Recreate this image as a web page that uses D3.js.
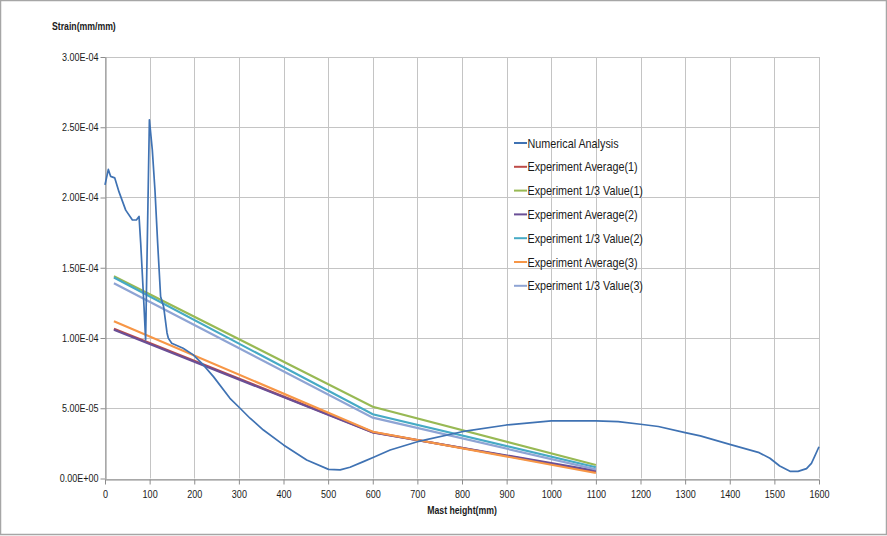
<!DOCTYPE html>
<html>
<head>
<meta charset="utf-8">
<script src="https://cdn.jsdelivr.net/npm/d3@7"></script>
<style>
  html, body { margin: 0; padding: 0; background: #fff; }
  svg { display: block; }
  text { font-family: "Liberation Sans", Arial, sans-serif; fill: #1a1a1a; }
</style>
</head>
<body>
<script>
// ---- data ----
const numX = [0, 7.5, 12.7, 21.7, 31.4, 46.4, 61.4, 70.3, 76.3, 80, 87.5, 91, 99.5, 106, 112, 118, 124.6, 131.5, 139, 142, 149.5, 175, 198, 217, 243, 280, 302.7, 325, 355, 400, 452, 501, 527, 549, 579, 602, 639, 700, 800, 900, 1000, 1100, 1150, 1200, 1240, 1300, 1334, 1400, 1466, 1490, 1512, 1535, 1553, 1572, 1583, 1590, 1600];
const numY = [2.09e-4, 2.20e-4, 2.15e-4, 2.14e-4, 2.04e-4, 1.91e-4, 1.84e-4, 1.84e-4, 1.865e-4, 1.675e-4, 1.22e-4, 0.986e-4, 2.553e-4, 2.34e-4, 2.05e-4, 1.675e-4, 1.295e-4, 1.22e-4, 1.036e-4, 0.998e-4, 0.963e-4, 0.927e-4, 0.88e-4, 0.82e-4, 0.725e-4, 0.571e-4, 0.50e-4, 0.429e-4, 0.345e-4, 0.239e-4, 0.132e-4, 0.065e-4, 0.061e-4, 0.08e-4, 0.12e-4, 0.151e-4, 0.203e-4, 0.262e-4, 0.333e-4, 0.381e-4, 0.41e-4, 0.41e-4, 0.405e-4, 0.386e-4, 0.37e-4, 0.326e-4, 0.303e-4, 0.243e-4, 0.184e-4, 0.144e-4, 0.089e-4, 0.051e-4, 0.051e-4, 0.07e-4, 0.108e-4, 0.155e-4, 0.226e-4];
const expX = [20, 600, 1100];
const expAvg1 = [1.065e-4, 3.30e-5, 4.8e-6];
const expThird1 = [1.44e-4, 5.11e-5, 9.6e-6];
const expAvg2 = [1.058e-4, 3.27e-5, 5.5e-6];
const expThird2 = [1.43e-4, 4.57e-5, 8.0e-6];
const expAvg3 = [1.12e-4, 3.33e-5, 3.9e-6];
const expThird3 = [1.39e-4, 4.33e-5, 6.5e-6];
const seriesNames = ["Numerical Analysis", "Experiment Average(1)", "Experiment 1/3 Value(1)", "Experiment Average(2)", "Experiment 1/3 Value(2)", "Experiment Average(3)", "Experiment 1/3 Value(3)"];
const seriesColors = ["#3f72b3", "#be4b48", "#98b954", "#6a4f96", "#46aac5", "#f79646", "#8ea4d4"];
const xTicks = d3.range(0, 1601, 100);
const yTicks = [0, 5e-5, 1e-4, 1.5e-4, 2e-4, 2.5e-4, 3e-4];
const yTickLabels = ["0.00E+00", "5.00E-05", "1.00E-04", "1.50E-04", "2.00E-04", "2.50E-04", "3.00E-04"];

// ---- layout ----
const W = 887, H = 536;
const svg = d3.select("body").append("svg").attr("width", W).attr("height", H);
svg.append("rect").attr("x", 0.5).attr("y", 0.5).attr("width", W - 1).attr("height", H - 2)
  .attr("fill", "#fff").attr("stroke", "#a6a6a6").attr("stroke-width", 1.5);

const x = d3.scaleLinear().domain([0, 1600]).range([105, 819]);
const y = d3.scaleLinear().domain([0, 3e-4]).range([478.5, 57]);

// gridlines
const g = svg.append("g");
g.selectAll(".hg").data(yTicks).enter().append("line")
  .attr("x1", x(0)).attr("x2", x(1600)).attr("y1", d => Math.round(y(d)) + 0.5).attr("y2", d => Math.round(y(d)) + 0.5)
  .attr("stroke", "#c4c4c4").attr("stroke-width", 1);
g.selectAll(".vg").data(xTicks).enter().append("line")
  .attr("y1", y(3e-4)).attr("y2", y(0)).attr("x1", d => Math.round(x(d)) + 0.5).attr("x2", d => Math.round(x(d)) + 0.5)
  .attr("stroke", "#c4c4c4").attr("stroke-width", 1);

// axes
const yAxis = d3.axisLeft(y).tickValues(yTicks).tickFormat((d, i) => yTickLabels[i]).tickSizeInner(5).tickSizeOuter(0).tickPadding(3);
const ya = svg.append("g").attr("transform", `translate(${Math.round(x(0)) + 0.5},0)`).call(yAxis);
ya.select(".domain").attr("stroke", "#8c8c8c");
ya.selectAll(".tick line").attr("stroke", "#8c8c8c");
ya.selectAll(".tick text").attr("font-size", 10.5).attr("fill", "#333").attr("transform", "scale(0.86,1)");

const xAxis = d3.axisBottom(x).tickValues(xTicks).tickFormat(d3.format("d")).tickSizeInner(5).tickSizeOuter(0).tickPadding(6);
const xa = svg.append("g").attr("transform", `translate(0,${Math.round(y(0)) + 0.5})`).call(xAxis);
xa.select(".domain").attr("stroke", "#8c8c8c");
xa.selectAll(".tick line").attr("stroke", "#8c8c8c");
xa.selectAll(".tick text").attr("font-size", 10.5).attr("fill", "#333").attr("transform", "scale(0.86,1)");
svg.selectAll(".tick text").style("font-family", '"Liberation Sans", Arial, sans-serif');

// titles
svg.append("text").attr("transform", "translate(52,30) scale(0.83,1)").attr("font-size", 10.5).attr("font-weight", "bold").text("Strain(mm/mm)");
svg.append("text").attr("transform", `translate(${x(800)},514) scale(0.83,1)`).attr("text-anchor", "middle").attr("font-size", 10.5).attr("font-weight", "bold").text("Mast height(mm)");

// lines
const line = d3.line().x(d => x(d[0])).y(d => y(d[1]));
const expSeries = [expAvg1, expThird1, expAvg2, expThird2, expAvg3, expThird3];
expSeries.forEach((vals, i) => {
  svg.append("path").datum(expX.map((xv, j) => [xv, vals[j]]))
    .attr("d", line).attr("fill", "none").attr("stroke", seriesColors[i + 1]).attr("stroke-width", 2.2);
});
svg.append("path").datum(numX.map((xv, j) => [xv, numY[j]]))
  .attr("d", line).attr("fill", "none").attr("stroke", seriesColors[0]).attr("stroke-width", 1.7).attr("stroke-linejoin", "round");

// legend
const lg = svg.append("g").attr("transform", "translate(514,143)");
seriesNames.forEach((name, i) => {
  const row = lg.append("g").attr("transform", `translate(0,${i * 23.8})`);
  row.append("line").attr("x1", 0).attr("x2", 13).attr("y1", 0).attr("y2", 0)
    .attr("stroke", seriesColors[i]).attr("stroke-width", 2);
  row.append("text").attr("transform", "translate(13.5,4.5) scale(0.83,1)").attr("font-size", 13).text(name);
});
</script>
</body>
</html>
